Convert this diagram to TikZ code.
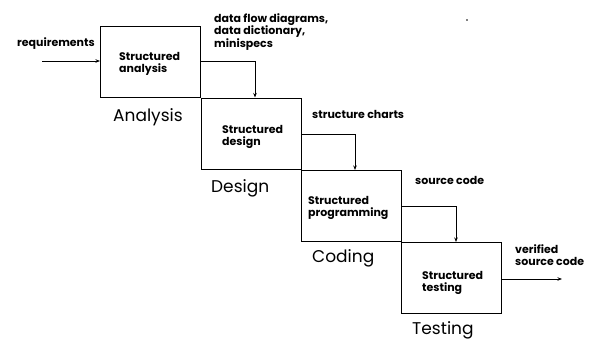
\documentclass[tikz,border=0pt]{standalone}
\usepackage{fontspec}
\setmainfont{Poppins}
\usetikzlibrary{arrows.meta}
\begin{document}
\begin{tikzpicture}[x=1pt,y=-1pt,
  phase/.style={draw,line width=1.1pt,minimum width=100pt,minimum height=71pt,anchor=north west,inner sep=0pt},
  flow/.style={line width=1pt,-{Stealth[length=4.5pt,width=3.5pt]}},
  small/.style={font=\bfseries\fontsize{11}{12.5}\selectfont,align=left,anchor=west,inner sep=0pt},
  big/.style={font=\fontsize{17}{20}\selectfont,anchor=west,inner sep=0pt}]
\useasboundingbox (0,0) rectangle (594,340);

% the four phase boxes, stepping down to the right
\node[phase] (ana) at (100,26) {};
\node[phase] (des) at (200.5,97.5) {};
\node[phase] (cod) at (300.5,170) {};
\node[phase] (tst) at (400.5,242) {};

% activity names inside the boxes
\node[small] (tana) at (119,64) {Structured\\analysis};
\node[small] (tdes) at (222,137) {Structured\\design};
\node[small] (tcod) at (308,208) {Structured\\programming};
\node[small] (ttst) at (422,283) {Structured\\testing};

% phase names under the boxes
\node[big] (lana) at (113,117) {Analysis};
\node[big] (ldes) at (211,188) {Design};
\node[big] (lcod) at (312,258) {Coding};
\node[big] (ltst) at (412,330) {Testing};

% products passed between phases
\node[small] (req) at (17,44) {requirements};
\node[small] (dfd) at (214,32) {data flow diagrams,\\data dictionary,\\minispecs};
\node[small] (sch) at (312,114) {structure charts};
\node[small] (src) at (415,180) {source code};
\node[small] (ver) at (515,255) {verified\\source code};

% connectors
\coordinate (in) at (42,61);
\coordinate (out) at (562,279);
\draw[flow] (in) -- (in -| ana.west);
\draw[flow] (ana.east |- 0,61.5) -| (des.north -| 255,0);
\draw[flow] (des.east |- 0,134.5) -| (cod.north -| 355,0);
\draw[flow] (cod.east |- 0,206) -| (tst.north -| 456,0);
\draw[flow] (tst.east |- out) -- (out);

% speck near the top right
\fill (467,20) circle (0.8pt);
\end{tikzpicture}
\end{document}
